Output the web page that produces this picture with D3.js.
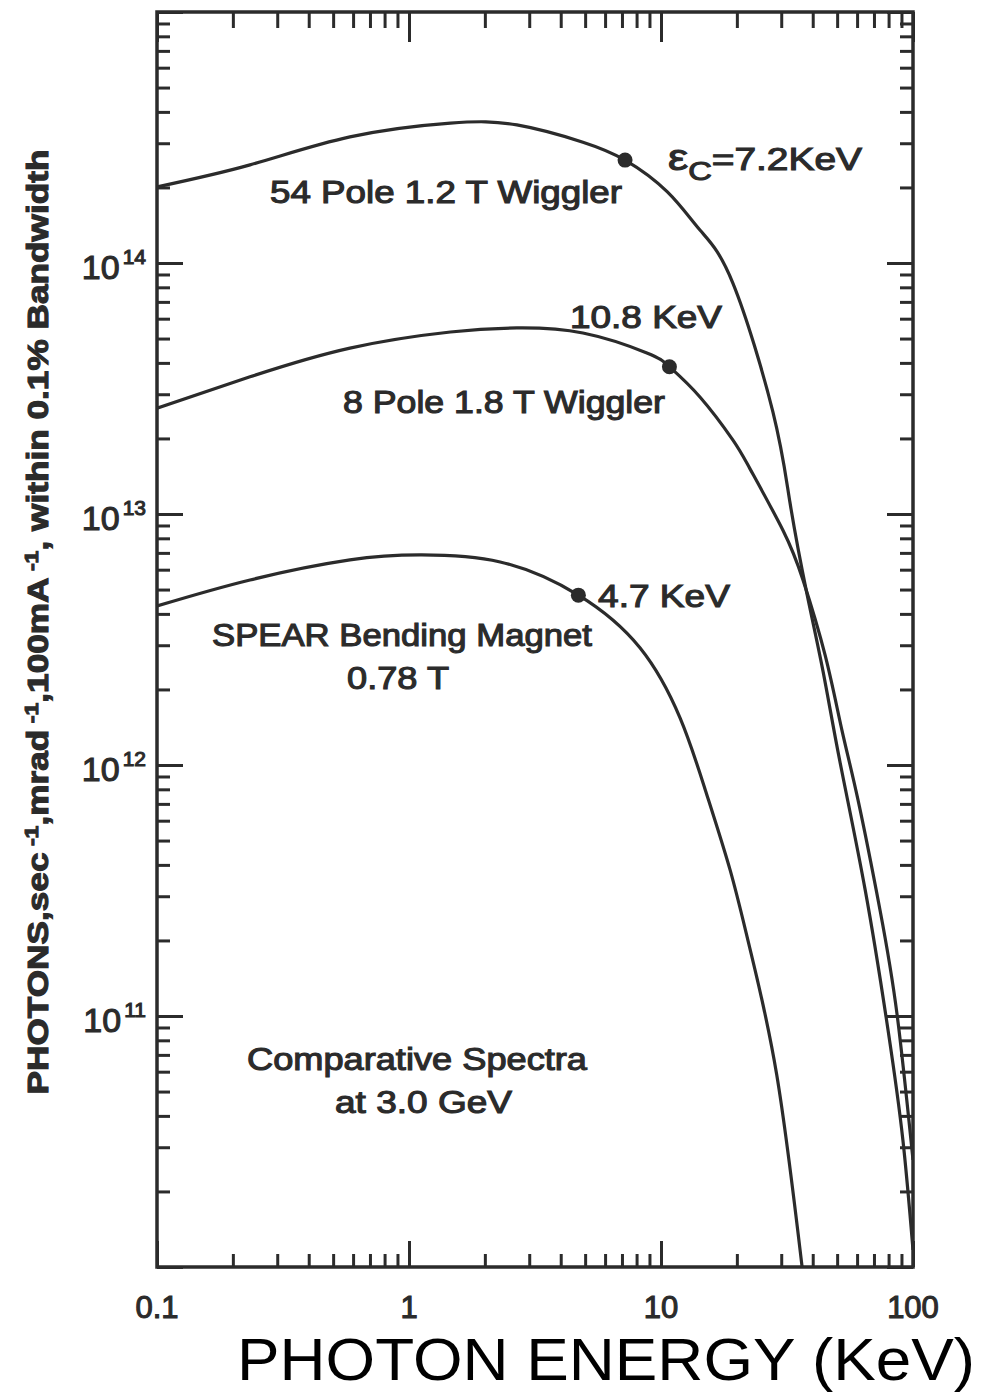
<!DOCTYPE html>
<meta charset="utf-8">
<style>
body { margin: 0; background: #fff; }
svg { display: block; }
.lbl { font-family: "Liberation Sans", Arial, sans-serif; fill: #2b2b2b; stroke: #2b2b2b; stroke-width: 1.1px; }
.axis path, .axis line { stroke: #2b2b2b; }
</style>
<body>
<svg width="983" height="1393"></svg>
<script src="https://cdn.jsdelivr.net/npm/d3@7/dist/d3.min.js"></script>
<script>

// 54 pole 1.2 T wiggler
var energy54 = [0.1, 0.234, 0.583, 1.46, 2.68, 4.9, 7.2, 10.6, 14.3, 19.3, 27.8, 32.5, 37.9, 44.0, 51.3, 64.6, 79.6, 91.2, 100];
var flux54 = [2.01e14, 2.46e14, 3.18e14, 3.61e14, 3.55e14, 3.03e14, 2.57e14, 1.92e14, 1.35e14, 8.3e13, 2.55e13, 1.11e13, 4.84e12, 2.35e12, 1.03e12, 3.18e11, 8.8e10, 3.2e10, 1.17e10];

// 8 pole 1.8 T wiggler
var energy8 = [0.1, 0.234, 0.583, 1.46, 2.68, 4.9, 8.79, 10.8, 14.3, 19.3, 22.5, 30.5, 36.6, 44.8, 52.2, 60.5, 74.0, 86.5, 100];
var flux8 = [2.64e13, 3.52e13, 4.58e13, 5.31e13, 5.51e13, 5.26e13, 4.38e13, 3.86e13, 2.92e13, 1.97e13, 1.52e13, 8.6e12, 5.46e12, 2.74e12, 1.38e12, 7.26e11, 2.64e11, 1.01e11, 2.67e10];

// SPEAR bending magnet 0.78 T
var energySpear = [0.1, 0.234, 0.583, 1.106, 2.3, 4.7, 8.25, 11.9, 15, 18.8, 22.5, 28.8, 36.3];
var fluxSpear = [4.3e12, 5.46e12, 6.56e12, 6.87e12, 6.44e12, 4.75e12, 2.93e12, 1.54e12, 7.94e11, 3.82e11, 1.87e11, 5.82e10, 1.0e10];

// critical energy markers
var critEnergy = [7.2, 10.8, 4.7];
var critFlux = [2.57e14, 3.86e13, 4.75e12];

var xTickLabels = ["0.1", "1", "10", "100"];
var xDecades = [0.1, 1, 10, 100];
var yDecades = [1e11, 1e12, 1e13, 1e14];
var yExponents = ["11", "12", "13", "14"];

var svg = d3.select("svg");
var ink = "#2b2b2b";

var mLeft = 157, mRight = 913, mTop = 12, mBottom = 1267;

var x = d3.scaleLog().domain([0.1, 100]).range([mLeft, mRight]);
var y = d3.scaleLog().domain([1e10, 1e15]).range([mBottom, mTop]);

function isDecade(v) {
  var l = Math.log10(v);
  return Math.abs(l - Math.round(l)) < 1e-6;
}

var xTicks = [];
[0.1, 1, 10].forEach(function(d) {
  for (var k = 1; k < 10; k++) xTicks.push(+(d * k).toPrecision(3));
});
xTicks.push(100);

var yTicks = [];
[1e10, 1e11, 1e12, 1e13, 1e14].forEach(function(d) {
  for (var k = 1; k < 10; k++) yTicks.push(d * k);
});
yTicks.push(1e15);

// axes, ticks pointing inward
var gB = svg.append("g").attr("class", "axis").attr("transform", "translate(0," + mBottom + ")")
  .call(d3.axisBottom(x).tickValues(xTicks).tickFormat("").tickSizeOuter(0));
gB.selectAll(".tick line").attr("y2", function(d) { return isDecade(d) ? -26 : -13; });

var gT = svg.append("g").attr("class", "axis").attr("transform", "translate(0," + mTop + ")")
  .call(d3.axisTop(x).tickValues(xTicks).tickFormat("").tickSizeOuter(0));
gT.selectAll(".tick line").attr("y2", function(d) { return isDecade(d) ? 30 : 16; });

var gL = svg.append("g").attr("class", "axis").attr("transform", "translate(" + mLeft + ",0)")
  .call(d3.axisLeft(y).tickValues(yTicks).tickFormat("").tickSizeOuter(0));
gL.selectAll(".tick line").attr("x2", function(d) { return isDecade(d) ? 26 : 13; });

var gR = svg.append("g").attr("class", "axis").attr("transform", "translate(" + mRight + ",0)")
  .call(d3.axisRight(y).tickValues(yTicks).tickFormat("").tickSizeOuter(0));
gR.selectAll(".tick line").attr("x2", function(d) { return isDecade(d) ? -26 : -13; });

svg.selectAll(".axis line").attr("stroke-width", 3);
svg.selectAll(".axis path").remove();

// frame
svg.append("rect")
  .attr("x", mLeft).attr("y", mTop)
  .attr("width", mRight - mLeft).attr("height", mBottom - mTop)
  .attr("fill", "none").attr("stroke", ink).attr("stroke-width", 3.5);

// x tick labels
svg.selectAll(".xlab")
  .data(xDecades)
  .enter().append("text")
  .attr("class", "lbl")
  .attr("x", function(d) { return x(d); })
  .attr("y", 1318)
  .attr("text-anchor", "middle")
  .attr("font-size", 31)
  .text(function(d, i) { return xTickLabels[i]; });

// y tick labels
var yl = svg.selectAll(".ylab")
  .data(yDecades)
  .enter().append("text")
  .attr("class", "lbl")
  .attr("x", 146)
  .attr("y", function(d) { return y(d) + 16; })
  .attr("text-anchor", "end")
  .attr("font-size", 34);
yl.append("tspan").text("10");
yl.append("tspan").attr("dx", 3).attr("dy", -15).attr("font-size", 21).text(function(d, i) { return yExponents[i]; });

// y axis title
var yt = svg.append("text")
  .attr("class", "lbl")
  .attr("transform", "translate(48,622) rotate(-90)")
  .attr("text-anchor", "middle")
  .attr("font-size", 29)
  .attr("font-weight", "bold")
  .attr("stroke-width", 0)
  .attr("textLength", 945)
  .attr("lengthAdjust", "spacingAndGlyphs");
yt.append("tspan").text("PHOTONS,sec");
yt.append("tspan").attr("dy", -10).attr("font-size", 19).text(" -1");
yt.append("tspan").attr("dy", 10).text(",mrad");
yt.append("tspan").attr("dy", -10).attr("font-size", 19).text(" -1");
yt.append("tspan").attr("dy", 10).text(",100mA");
yt.append("tspan").attr("dy", -10).attr("font-size", 19).text(" -1");
yt.append("tspan").attr("dy", 10).text(", within 0.1% Bandwidth");

// x axis title
svg.append("text")
  .attr("x", 975).attr("y", 1380)
  .attr("text-anchor", "end")
  .attr("font-family", "Liberation Sans, Arial, sans-serif")
  .attr("font-size", 60)
  .attr("fill", "#000")
  .attr("textLength", 738)
  .attr("lengthAdjust", "spacingAndGlyphs")
  .text("PHOTON ENERGY (KeV)");

// curves
svg.append("clipPath").attr("id", "plot")
  .append("rect").attr("x", mLeft).attr("y", mTop).attr("width", mRight - mLeft).attr("height", mBottom - mTop);

var line = d3.line()
  .x(function(d) { return x(d[0]); })
  .y(function(d) { return y(d[1]); })
  .curve(d3.curveNatural);

var series = [
  d3.zip(energy54, flux54),
  d3.zip(energy8, flux8),
  d3.zip(energySpear, fluxSpear)
];

svg.append("g").attr("clip-path", "url(#plot)")
  .selectAll("path")
  .data(series)
  .enter().append("path")
  .attr("d", line)
  .attr("fill", "none")
  .attr("stroke", ink)
  .attr("stroke-width", 3.2);

svg.selectAll(".dot")
  .data(d3.zip(critEnergy, critFlux))
  .enter().append("circle")
  .attr("cx", function(d) { return x(d[0]); })
  .attr("cy", function(d) { return y(d[1]); })
  .attr("r", 7.5)
  .attr("fill", ink);

// annotations
function label(txt, px, py, len) {
  return svg.append("text")
    .attr("class", "lbl")
    .attr("x", px).attr("y", py)
    .attr("font-size", 31)
    .attr("textLength", len)
    .attr("lengthAdjust", "spacingAndGlyphs")
    .text(txt);
}

var ec = svg.append("text").attr("class", "lbl").attr("x", 668).attr("y", 170).attr("font-size", 31)
  .attr("textLength", 194).attr("lengthAdjust", "spacingAndGlyphs");
ec.append("tspan").attr("font-size", 36).text("ε");
ec.append("tspan").attr("dy", 10).attr("font-size", 26).text("C");
ec.append("tspan").attr("dy", -10).text("=7.2KeV");

label("54 Pole  1.2 T Wiggler", 270, 203, 352);
label("10.8 KeV", 570, 328, 152);
label("8 Pole  1.8 T Wiggler", 343, 413, 322);
label("4.7 KeV", 598, 607, 132);
label("SPEAR Bending Magnet", 212, 646, 380);
label("0.78 T", 347, 689, 102);
label("Comparative Spectra", 247, 1070, 340);
label("at 3.0 GeV", 335, 1113, 177);

</script>
</body>
